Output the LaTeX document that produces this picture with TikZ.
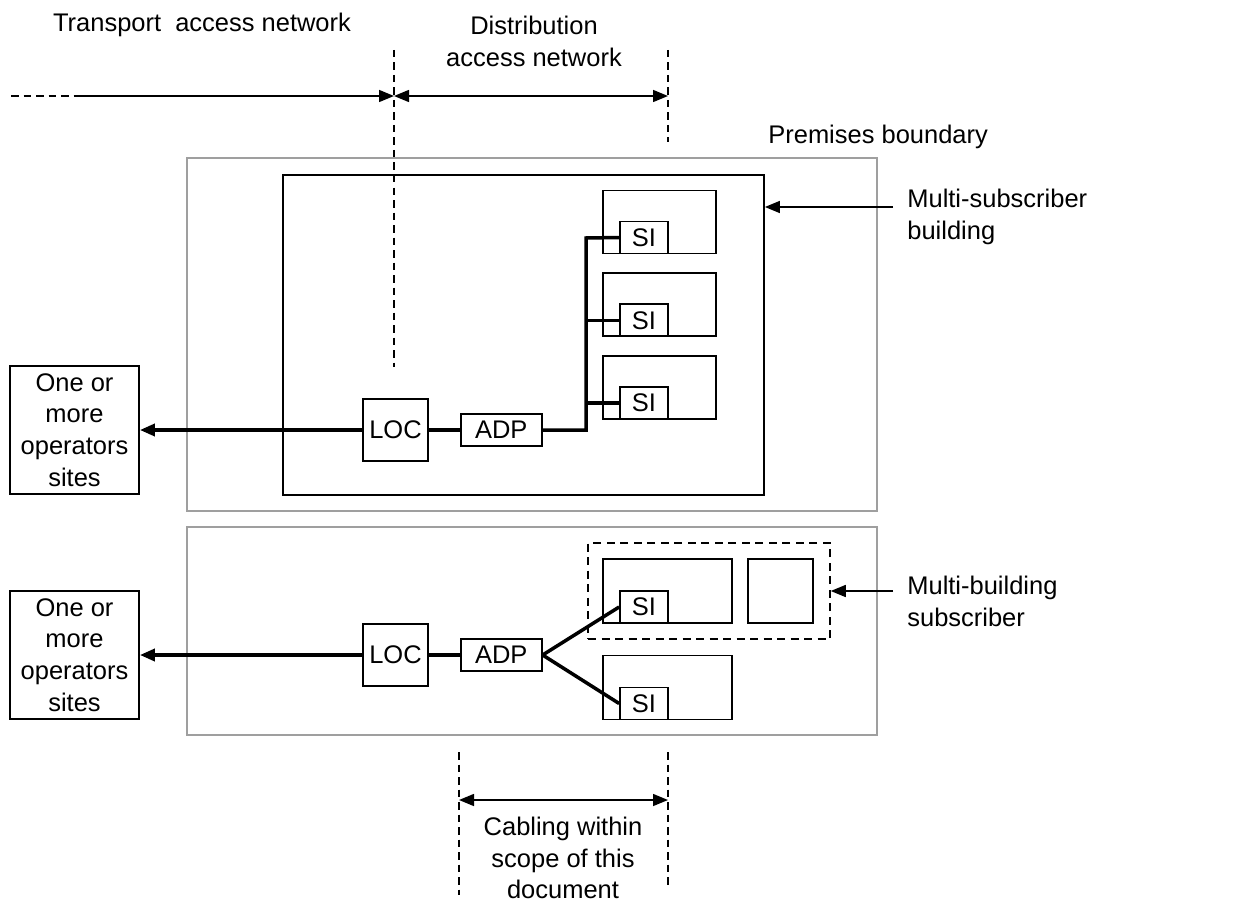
\documentclass[tikz,border=0pt]{standalone}
\usepackage{fontspec}
\setmainfont{Liberation Sans}
\usetikzlibrary{arrows.meta,positioning,calc}

\begin{document}
\begin{tikzpicture}[
  x=0.2mm, y=-0.2mm,
  >={Triangle[length=3mm,width=2.4mm]},
  node distance=3.6mm,
  every node/.style={font=\fontsize{14.5}{18.1}\selectfont},
  box/.style={draw, line width=0.35mm, inner sep=0pt, align=center},
  premises/.style={draw=gray!75, line width=0.35mm, inner sep=0pt},
  groupbox/.style={draw, line width=0.3mm, dash pattern=on 1.6mm off 1.1mm, inner sep=0pt},
  unitbox/.style={box, minimum width=22.6mm, minimum height=12.6mm},
  sibox/.style={box, minimum width=9.6mm, minimum height=6.4mm},
  locbox/.style={box, minimum width=13mm, minimum height=12.4mm},
  adpbox/.style={box, minimum width=16.2mm, minimum height=6.4mm},
  sitebox/.style={box, minimum width=25.8mm, minimum height=25.6mm},
  note/.style={align=left, anchor=west, inner sep=0pt},
  cable/.style={line width=0.7mm},
  pointer/.style={->, line width=0.3mm},
  span/.style={<->, line width=0.3mm},
  boundary/.style={line width=0.3mm, dash pattern=on 1.5mm off 1mm}
]
\useasboundingbox (0,0) rectangle (1247,902);

% network segments along the top
\node (tanText) at (202,25) {Transport~~access network};
\node[align=center] (danText) at (534,41) {Distribution\\access network};
\node[note] (premText) at (768,137) {Premises boundary};

\coordinate (tanEnd) at (11,96);
\coordinate (tanFade) at (76,96);
\coordinate (splitTop) at (394,50);
\coordinate (splitBot) at (394,367);
\coordinate (distTop) at (668,50);
\coordinate (distBot) at (668,142);
\coordinate (splitMid) at (394,96);
\coordinate (distMid) at (668,96);

\draw[boundary] (splitTop) -- (splitBot);
\draw[boundary] (distTop) -- (distBot);
\draw[boundary] (tanEnd) -- (tanFade);
\draw[pointer] (tanFade) -- (splitMid);
\draw[span] (splitMid) -- (distMid);

% multi-subscriber building
\node[premises, minimum width=138mm, minimum height=70.6mm] (premA) at (532,334.5) {};
\node[box, minimum width=96.2mm, minimum height=64mm] (msb) at (523.5,335) {};

\node[unitbox] (unitA) at (659.5,222) {};
\node[unitbox, below=of unitA] (unitB) {};
\node[unitbox, below=of unitB] (unitC) {};
\foreach \u in {A,B,C}
  \node[sibox, anchor=south west] (si\u) at ([xshift=3.4mm]unit\u.south west) {SI};

\node[locbox] (locA) at (395.5,430) {LOC};
\node[adpbox, right=6.2mm of locA] (adpA) {ADP};
\node[sitebox] (sitesA) at (74.5,430) {One or\\more\\operators\\sites};
\coordinate (busA) at (586,238);

\draw[cable, ->] (locA) -- (sitesA);
\draw[cable] (locA) -- (adpA);
\draw[cable] (adpA.east) -| (busA) -- (siA.west);
\draw[cable] (busA |- siB) -- (siB.west);
\draw[cable] (busA |- siC) -- (siC.west);

\node[note] (msbText) at (907,217) {Multi-subscriber\\building};
\coordinate (msbTail) at (893,207);
\draw[pointer] (msbTail) -- (msbTail -| msb.east);

% multi-building subscriber
\node[premises, minimum width=138mm, minimum height=41.6mm] (premB) at (532,631) {};
\node[groupbox, minimum width=48.4mm, minimum height=19.2mm] (mbs) at (709,591) {};

\node[box, minimum width=25.8mm, minimum height=12.8mm] (unitD) at (667.5,591) {};
\node[box, minimum width=13mm, minimum height=12.8mm] (unitE) at (780.5,591) {};
\node[box, minimum width=25.8mm, minimum height=12.8mm] (unitF) at (667.5,687.5) {};
\node[sibox, anchor=south west] (siD) at ([xshift=3.4mm]unitD.south west) {SI};
\node[sibox, anchor=south west] (siF) at ([xshift=3.4mm]unitF.south west) {SI};

\node[locbox] (locB) at (395.5,655) {LOC};
\node[adpbox, right=6.2mm of locB] (adpB) {ADP};
\node[sitebox] (sitesB) at (74.5,655) {One or\\more\\operators\\sites};

\draw[cable, ->] (locB) -- (sitesB);
\draw[cable] (locB) -- (adpB);
\draw[cable] (adpB.east) -- (siD.west);
\draw[cable] (adpB.east) -- (siF.west);

\node[note] (mbsText) at (907,601) {Multi-building\\subscriber};
\coordinate (mbsTail) at (893,591);
\draw[pointer] (mbsTail) -- (mbsTail -| mbs.east);

% scope of the cabling
\coordinate (scopeLTop) at (459,752);
\coordinate (scopeLBot) at (459,895);
\coordinate (scopeRTop) at (668,752);
\coordinate (scopeRBot) at (668,885);
\coordinate (scopeL) at (459,800);
\coordinate (scopeR) at (668,800);

\draw[boundary] (scopeLTop) -- (scopeLBot);
\draw[boundary] (scopeRTop) -- (scopeRBot);
\draw[span] (scopeL) -- (scopeR);
\node[align=center] (scopeText) at (563,858) {Cabling within\\scope of this\\document};

\end{tikzpicture}
\end{document}
